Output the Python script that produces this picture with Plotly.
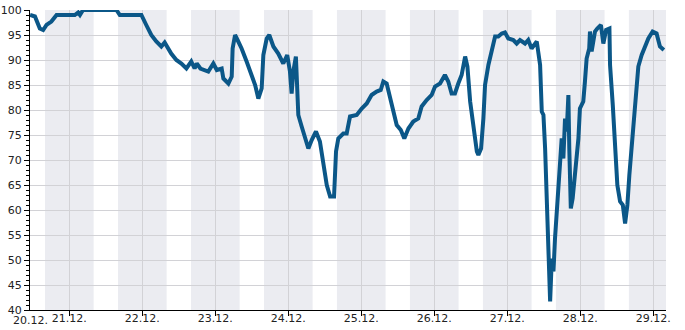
import plotly.graph_objects as go
import pandas as pd

# hours since 20.12. 00:00 and relative humidity (%)
hours = [11.1, 12.7, 14.3, 15.4, 16.5, 18.1, 19.8, 25.8, 26.9, 27.5, 28.5, 39.5, 40.6,
         47.7, 49.3, 50.95, 52.6, 54.25, 55.35, 56.4, 57.5, 59.2, 60.85, 62.5, 64.1, 65.2,
         65.9, 67.1, 69.7, 71.35, 72.5, 74.1, 74.65, 76.3, 77.4, 77.7, 78.5, 79.55, 80.65,
         82.3, 84.0, 85.1, 86.15, 87.25, 87.8, 88.9, 89.75, 91.1, 92.7, 94.35, 95.65, 96.55,
         97.1, 97.65, 98.5, 98.95, 99.3, 100.4, 101.5, 102.6, 103.7, 105.1, 106.4, 107.5,
         108.65, 109.75, 111.05, 111.7, 112.45, 114.1, 115.2, 116.3, 118.5, 120.15, 121.8,
         123.4, 125.05, 126.4, 127.25, 128.35, 129.45, 130.55, 131.65, 133.0, 134.15, 135.5,
         137.1, 138.75, 139.85, 141.5, 143.15, 144.25, 145.9, 147.5, 148.6, 149.7, 150.8,
         151.9, 153.0, 154.15, 154.9, 155.8, 156.9, 158.0, 158.5, 159.4, 160.15, 160.7,
         161.8, 162.9, 164.0, 165.05, 166.2, 167.25, 168.35, 170.0, 171.1, 172.2, 173.85,
         174.9, 176.0, 177.7, 178.8, 179.35, 179.9, 180.45, 181.0, 181.5, 182.1, 182.65,
         183.2, 183.7, 184.5, 185.4, 185.9, 186.45, 187.0, 187.55, 188.1, 188.4, 188.9,
         189.5, 190.3, 191.4, 191.9, 193.0, 193.55, 194.1, 194.95, 195.2, 195.75, 196.85,
         197.6, 198.8, 199.6, 200.5, 201.6, 201.8, 202.7, 203.45, 204.2, 205.1, 206.0,
         206.75, 207.5, 208.15, 208.95, 209.7, 210.35, 211.1, 212.2, 213.3, 214.4, 215.8,
         217.1, 218.2, 219.5]
humidity = [99, 98.7, 96.3, 96, 97, 97.7, 99, 99, 99.5, 99, 100, 100, 99,
            99, 97, 95, 93.7, 92.7, 93.5, 92.3, 91.3, 90, 89.3, 88.3, 89.7, 88.3,
            89.3, 88.3, 87.7, 89.3, 88, 88.3, 86.3, 85.3, 86.7, 92.3, 95, 93.7, 92.3,
            89.7, 86.7, 85, 82.3, 84.3, 91, 94.3, 95, 92.7, 91.3, 89.3, 91, 87.7,
            83.3, 87.7, 90.7, 83.7, 79, 76.7, 74.3, 72.3, 74, 75.7, 73.7, 69.7,
            65, 62.7, 62.7, 71.7, 74.3, 75.3, 75.3, 78.7, 79, 80.3, 81.3,
            83, 83.7, 84, 85.7, 85.3, 82.3, 79.7, 77, 76, 74.3, 76.3,
            77.7, 78.3, 80.7, 82, 83, 84.7, 85.3, 87, 85.7, 83.3, 83.3,
            85.3, 87, 90.7, 88.7, 81.7, 76.3, 71.7, 71, 72.3, 78.3, 85,
            89, 92.3, 94.7, 94.7, 95.3, 95.5, 94.3, 94, 93.3, 94, 93.3,
            94, 92.3, 93.7, 89, 79.7, 79, 72.3, 63.7, 54.3, 41.7, 50.3,
            47.7, 54.3, 61, 68.3, 74.3, 70.3, 78.3, 75.7, 83, 72.3, 60.3,
            62.3, 67, 74.3, 80.3, 81.7, 85.7, 90.3, 92.3, 95.7, 91.7, 95.7,
            96.3, 97, 93.3, 96, 96.3, 89, 81, 73, 65, 61.7, 61,
            57.3, 61, 67, 73, 79, 83.7, 88.7, 91, 92.7, 94.3, 95.7,
            95.3, 92.7, 92]

start = pd.Timestamp("2023-12-20 00:00")
tick_dates = ["2023-12-21", "2023-12-22", "2023-12-23", "2023-12-24", "2023-12-25",
              "2023-12-26", "2023-12-27", "2023-12-28", "2023-12-29"]
tick_labels = ["21.12.", "22.12.", "23.12.", "24.12.", "25.12.",
               "26.12.", "27.12.", "28.12.", "29.12."]
first_label = "20.12."

times = [start + pd.Timedelta(hours=h) for h in hours]
x_start = start + pd.Timedelta(hours=11.07)
x_end = start + pd.Timedelta(hours=220.2)

fig = go.Figure()
fig.add_trace(go.Scatter(x=times, y=humidity, mode="lines",
                         line=dict(color="#0b5788", width=4), hoverinfo="skip"))

# night shading 16:00 - 08:00
shapes = []
for d in range(9):
    s = start + pd.Timedelta(hours=24 * d + 16)
    e = min(start + pd.Timedelta(hours=24 * d + 32), x_end)
    shapes.append(dict(type="rect", xref="x", yref="paper", x0=s, x1=e, y0=0, y1=1,
                       fillcolor="#ebecf1", line=dict(width=0), layer="below"))

fig.update_layout(
    width=685, height=330,
    margin=dict(l=30, r=19, t=10, b=20),
    paper_bgcolor="white", plot_bgcolor="white",
    font=dict(family="DejaVu Sans", size=11, color="#222222"),
    showlegend=False,
    shapes=shapes,
    xaxis=dict(type="date", range=[x_start, x_end], tickmode="array",
               tickvals=tick_dates, ticktext=tick_labels, ticks="outside", ticklen=5,
               tickcolor="black", showline=True, linecolor="black", linewidth=1,
               showgrid=True, gridcolor="#d2d2d6", zeroline=False, automargin=False,
               ticklabelstandoff=-7),
    yaxis=dict(range=[40, 100], dtick=5, tick0=40, ticks="outside", ticklen=5,
               tickcolor="black", showline=True, linecolor="black", linewidth=1,
               showgrid=True, gridcolor="#d2d2d6", zeroline=False, automargin=False,
               minor=dict(dtick=1, ticks="outside", ticklen=3, tickcolor="black",
                          showgrid=False)),
    annotations=[dict(x=x_start, y=0, xref="x", yref="paper", text=first_label,
                      showarrow=False, xanchor="center", yanchor="top", yshift=-2,
                      font=dict(family="DejaVu Sans", size=11, color="#222222"))],
)

fig.write_html("out.html")
